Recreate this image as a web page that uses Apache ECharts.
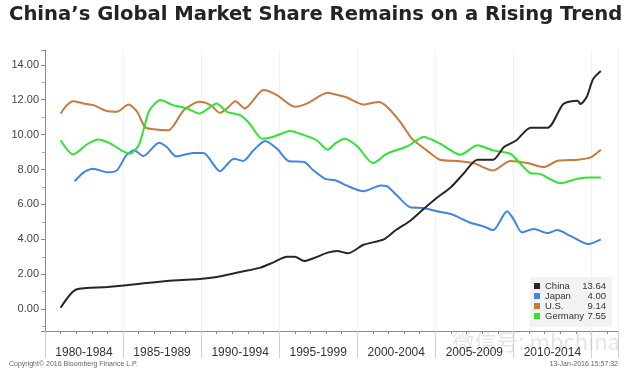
<!DOCTYPE html>
<html>
<head>
<meta charset="utf-8">
<script src="https://cdn.jsdelivr.net/npm/echarts@6/dist/echarts.min.js"></script>
<style>html,body{margin:0;padding:0;background:#fff}#c{width:640px;height:378px}</style>
</head>
<body>
<div id="c"></div>
<script>
// ---- data ----
var periodLabels = ['1980-1984','1985-1989','1990-1994','1995-1999','2000-2004','2005-2009','2010-2014'];
var periodStarts = [1980,1985,1990,1995,2000,2005,2010];
var seriesNames = ['China','Japan','U.S.','Germany'];

var chinaYears = [1981.0,1982.0,1984.0,1986.1,1988.2,1989.9,1991.0,1992.5,1993.8,1994.6,1995.5,1996.0,1996.6,1997.2,1998.1,1998.7,1999.4,2000.4,2001.7,2002.5,2003.4,2004.25,2005.1,2006.0,2006.8,2007.7,2008.7,2009.4,2010.2,2011.1,2012.2,2013.2,2014.1,2014.3,2014.7,2015.1,2015.6];
var chinaValues = [0.08,1.13,1.27,1.46,1.65,1.73,1.84,2.13,2.38,2.67,3.0,3.0,2.76,2.92,3.24,3.34,3.2,3.69,4.0,4.55,5.07,5.74,6.38,6.99,7.76,8.56,8.56,9.29,9.68,10.4,10.4,11.75,11.94,11.75,12.17,13.17,13.64];

var japanYears = [1981.9,1982.5,1983.1,1983.95,1984.6,1985.2,1985.7,1986.3,1987.3,1987.8,1988.4,1989.5,1990.15,1991.2,1992.1,1992.7,1993.35,1994.1,1994.85,1995.6,1996.6,1997.2,1997.95,1998.6,1999.3,2000.4,2001.5,2001.9,2002.55,2003.4,2004.25,2005.1,2006.0,2007.2,2008.1,2008.7,2009.6,2010.0,2010.55,2011.3,2012.2,2012.8,2013.65,2014.8,2015.6];
var japanValues = [7.33,7.85,8.05,7.85,7.95,8.81,9.1,8.77,9.54,9.29,8.76,8.95,8.95,7.91,8.62,8.49,9.1,9.64,9.2,8.49,8.43,7.95,7.47,7.39,7.09,6.76,7.09,7.05,6.51,5.84,5.8,5.61,5.45,4.97,4.74,4.53,5.61,5.17,4.4,4.59,4.36,4.53,4.2,3.73,4.00];

var usYears = [1981.0,1981.4,1981.8,1982.45,1983.1,1983.95,1984.6,1985.35,1985.9,1986.4,1986.95,1987.9,1988.9,1989.9,1990.6,1991.2,1991.65,1992.2,1992.8,1994.0,1994.85,1996.0,1996.8,1998.1,1998.6,1999.3,2000.4,2001.35,2001.9,2002.75,2003.5,2004.45,2005.3,2006.4,2007.45,2008.7,2009.8,2010.9,2011.95,2012.8,2014.1,2014.9,2015.6];
var usValues = [11.21,11.69,11.92,11.79,11.69,11.35,11.31,11.73,11.31,10.44,10.31,10.25,11.41,11.88,11.69,11.25,11.5,11.92,11.5,12.56,12.27,11.6,11.79,12.4,12.3,12.14,11.73,11.87,11.6,10.73,9.77,9.1,8.56,8.49,8.37,7.95,8.49,8.37,8.14,8.49,8.56,8.68,9.14];

var germanyYears = [1981.0,1981.8,1982.7,1983.4,1984.2,1984.9,1985.45,1986.0,1986.3,1986.7,1987.4,1988.2,1989.1,1989.9,1991.0,1991.65,1992.5,1993.1,1993.9,1994.6,1995.7,1996.6,1997.4,1998.1,1998.6,1999.2,2000.0,2001.0,2001.9,2003.2,2004.25,2005.3,2006.6,2007.7,2008.7,2009.8,2010.45,2011.1,2011.7,2013.0,2014.1,2014.9,2015.6];
var germanyValues = [9.68,8.87,9.45,9.72,9.49,9.1,8.91,9.39,10.25,11.41,11.98,11.69,11.5,11.21,11.79,11.31,11.12,10.64,9.77,9.87,10.21,9.97,9.68,9.14,9.5,9.77,9.33,8.37,8.91,9.33,9.87,9.49,8.85,9.39,9.1,8.91,8.33,7.79,7.75,7.22,7.47,7.55,7.55];

var yTickStep = 2;

// ---- build ----
function pairs(xs, ys){ return xs.map(function(x,i){ return [x, ys[i]]; }); }
var allYears = [chinaYears, japanYears, usYears, germanyYears];
var allValues = [chinaValues, japanValues, usValues, germanyValues];
var colors = ['#262626','#3f86e4','#c97a3a','#2fe32f'];
var lastVal = {};
seriesNames.forEach(function(n,i){ var v = allValues[i]; lastVal[n] = v[v.length-1].toFixed(2); });

var chart = echarts.init(document.getElementById('c'), null, {renderer:'canvas'});
var baseFont = 'Liberation Sans, Arial, sans-serif';
chart.setOption({
  animation:false,
  backgroundColor:'#ffffff',
  title:[
    {text:'China\u2019s Global Market Share Remains on a Rising Trend', left:9, top:5, padding:0,
     textStyle:{fontFamily:'DejaVu Sans', fontWeight:'bold', fontSize:19.6, color:'#242424'}},
    {text:'Copyright\u00a9 2016 Bloomberg Finance L.P.', left:9, top:361, padding:0,
     textStyle:{fontFamily:baseFont, fontWeight:'normal', fontSize:7, color:'#666'}},
    {text:'13-Jan-2016 15:57:32', right:22, top:361, padding:0,
     textStyle:{fontFamily:baseFont, fontWeight:'normal', fontSize:7, color:'#666'}}
  ],
  grid:{left:45, right:22, top:50, bottom:47, containLabel:false},
  legend:{
    orient:'vertical', left:530, top:277,
    data:seriesNames, icon:'rect', itemWidth:6, itemHeight:6, itemGap:0,
    backgroundColor:'#f2f2f2', padding:[4,6,6,4],
    formatter:function(n){ return '{n|'+n+'}{v|'+lastVal[n]+'}'; },
    textStyle:{fontFamily:baseFont, fontSize:9.5, color:'#333', lineHeight:10,
      rich:{n:{width:41, fontSize:9.5, lineHeight:10, color:'#333'}, v:{width:20, align:'right', fontSize:9.5, lineHeight:10, color:'#333'}}}
  },
  xAxis:[
    {type:'value', min:1980, max:2016.7, interval:1, position:'bottom',
     axisLine:{show:true, onZero:false, lineStyle:{color:'#8a8a8a', width:1}},
     axisTick:{show:true, length:3, lineStyle:{color:'#8a8a8a'}},
     axisLabel:{show:false}, splitLine:{show:false}},
    {type:'value', min:1980, max:2016.7, interval:5, position:'bottom',
     axisLine:{show:false, onZero:false},
     axisTick:{show:true, length:27, lineStyle:{color:'#cfcfcf'}},
     splitLine:{show:true, lineStyle:{color:'#f1f1f1', width:1}},
     axisLabel:{show:true, align:'left', margin:15,
       formatter:function(v){ var k = periodStarts.indexOf(Math.round(v)); return (k>=0 && Math.abs(v-periodStarts[k])<1e-6) ? '{a|'+periodLabels[k]+'}' : ''; },
       rich:{a:{width:78, align:'center', fontFamily:baseFont, fontSize:12, color:'#333', lineHeight:14}}}}
  ],
  yAxis:{type:'value', min:-1.25, max:14.85, splitNumber:8, minInterval:yTickStep, maxInterval:yTickStep,
    axisLine:{show:true, onZero:false, lineStyle:{color:'#8a8a8a'}},
    axisTick:{show:true, length:4, lineStyle:{color:'#8a8a8a'}},
    minorTick:{show:true, splitNumber:2, length:3, lineStyle:{color:'#aaaaaa'}},
    splitLine:{show:false},
    axisLabel:{margin:6, fontFamily:baseFont, fontSize:11, color:'#444',
      formatter:function(v){ var r = v/yTickStep; return Math.abs(r-Math.round(r))<1e-6 ? v.toFixed(2) : ''; }}
  },
  graphic:[
    {type:'text', right:20, top:331, silent:true,
     style:{text:'\u5fae\u4fe1\u53f7: mbchina', font:'22px "Noto Sans CJK SC", sans-serif', fill:'rgba(160,160,160,0.28)'}}
  ],
  series:seriesNames.map(function(n,i){
    return {name:n, type:'line', data:pairs(allYears[i], allValues[i]), showSymbol:false, symbol:'none',
      smooth:0.25, z: (n==='China'?5:3), lineStyle:{width:2, color:colors[i]}, itemStyle:{color:colors[i]}};
  })
});
</script>
</body>
</html>
